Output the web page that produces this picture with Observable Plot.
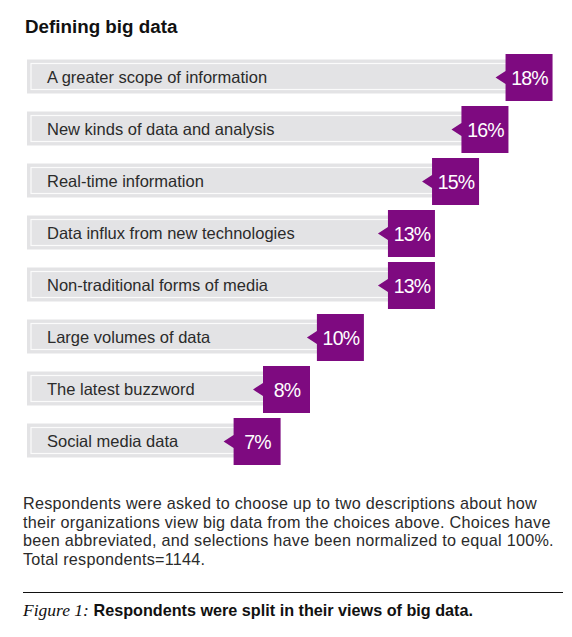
<!DOCTYPE html>
<html>
<head>
<meta charset="utf-8">
<script src="https://cdn.jsdelivr.net/npm/d3@7"></script>
<script src="https://cdn.jsdelivr.net/npm/@observablehq/plot@0.6"></script>
<style>
  html, body { margin: 0; padding: 0; background: #fff; }
  body { width: 572px; height: 637px; position: relative; overflow: hidden; font-family: "Liberation Sans", Arial, sans-serif; }
  #title { position: absolute; left: 25px; top: 18.1px; font-size: 18.8px; line-height: 18.8px; font-weight: bold; color: #111; white-space: nowrap; }
  #chart { position: absolute; left: 0; top: 44px; }
  #note { position: absolute; left: 23px; top: 494px; font-size: 16.2px; line-height: 18.7px; letter-spacing: 0.25px; color: #2b2b2b; white-space: nowrap; }
  #rule { position: absolute; left: 23px; top: 591.5px; width: 540px; height: 0; border-top: 1px solid #111; }
  #caption { position: absolute; left: 23px; top: 601.4px; font-size: 16.2px; line-height: 18px; font-weight: bold; color: #111; white-space: nowrap; }
  #caption i { font-family: "Liberation Serif", "Times New Roman", serif; font-weight: normal; font-size: 17.5px; }
</style>
</head>
<body>
<div id="title">Defining big data</div>
<div id="chart"></div>
<div id="note">Respondents were asked to choose up to two descriptions about how<br>their organizations view big data from the choices above. Choices have<br>been abbreviated, and selections have been normalized to equal 100%.<br>Total respondents=1144.</div>
<div id="rule"></div>
<div id="caption"><i>Figure 1:</i> Respondents were split in their views of big data.</div>
<script>
const categories = [
  "A greater scope of information",
  "New kinds of data and analysis",
  "Real-time information",
  "Data influx from new technologies",
  "Non-traditional forms of media",
  "Large volumes of data",
  "The latest buzzword",
  "Social media data"
];
const values = [17.9, 16.1, 14.9, 13.1, 13.1, 10.2, 8.0, 6.8];
const pctLabels = ["18%", "16%", "15%", "13%", "13%", "10%", "8%", "7%"];

const data = categories.map((c, i) => ({category: c, value: values[i], label: pctLabels[i]}));

const purple = "#7e0a80";
const barOrigin = -3.53;

// box with a left-pointing notch; origin at the right-middle of the box
const tagSymbol = {
  draw(context) {
    const w = 47, h = 23.5, t = 10, th = 6.5;
    context.moveTo(0, -h);
    context.lineTo(-w, -h);
    context.lineTo(-w, -th);
    context.lineTo(-w - t, 0);
    context.lineTo(-w, th);
    context.lineTo(-w, h);
    context.lineTo(0, h);
    context.closePath();
  }
};

const chart = Plot.plot({
  width: 572,
  height: 430,
  style: {fontFamily: "'Liberation Sans', Arial, sans-serif", background: "transparent", overflow: "visible"},
  x: {domain: [0, 18], range: [113.5, 554.5], axis: null},
  y: {domain: categories, range: [6.5, 422.5], padding: 0, axis: null},
  marks: [
    Plot.barX(data, {y: "category", x1: barOrigin, x2: "value", fill: "#e3e3e5", insetTop: 8.5, insetBottom: 9.5}),
    Plot.barX(data, {y: "category", x1: barOrigin, x2: "value", fill: "none", stroke: "#fbfbfb", strokeWidth: 1.2, insetTop: 12.5, insetBottom: 13.5, insetLeft: 4, insetRight: 4}),
    Plot.text(data, {y: "category", x: barOrigin, text: "category", dx: 19.5, textAnchor: "start", fontSize: 16.5, fill: "#2b2b2b"}),
    Plot.dot(data, {y: "category", x: "value", symbol: tagSymbol, r: 10, fill: purple, stroke: null}),
    Plot.text(data, {y: "category", x: "value", text: "label", dx: -23, dy: 1, fontSize: 19.5, fill: "white", letterSpacing: "-0.8px"})
  ]
});
chart.querySelectorAll("text").forEach(t => { if (t.getAttribute("letter-spacing") === null && t.closest("g") && t.closest("g").getAttribute("fill") === "white") t.setAttribute("letter-spacing", "-0.8"); });
document.getElementById("chart").appendChild(chart);
</script>
</body>
</html>
